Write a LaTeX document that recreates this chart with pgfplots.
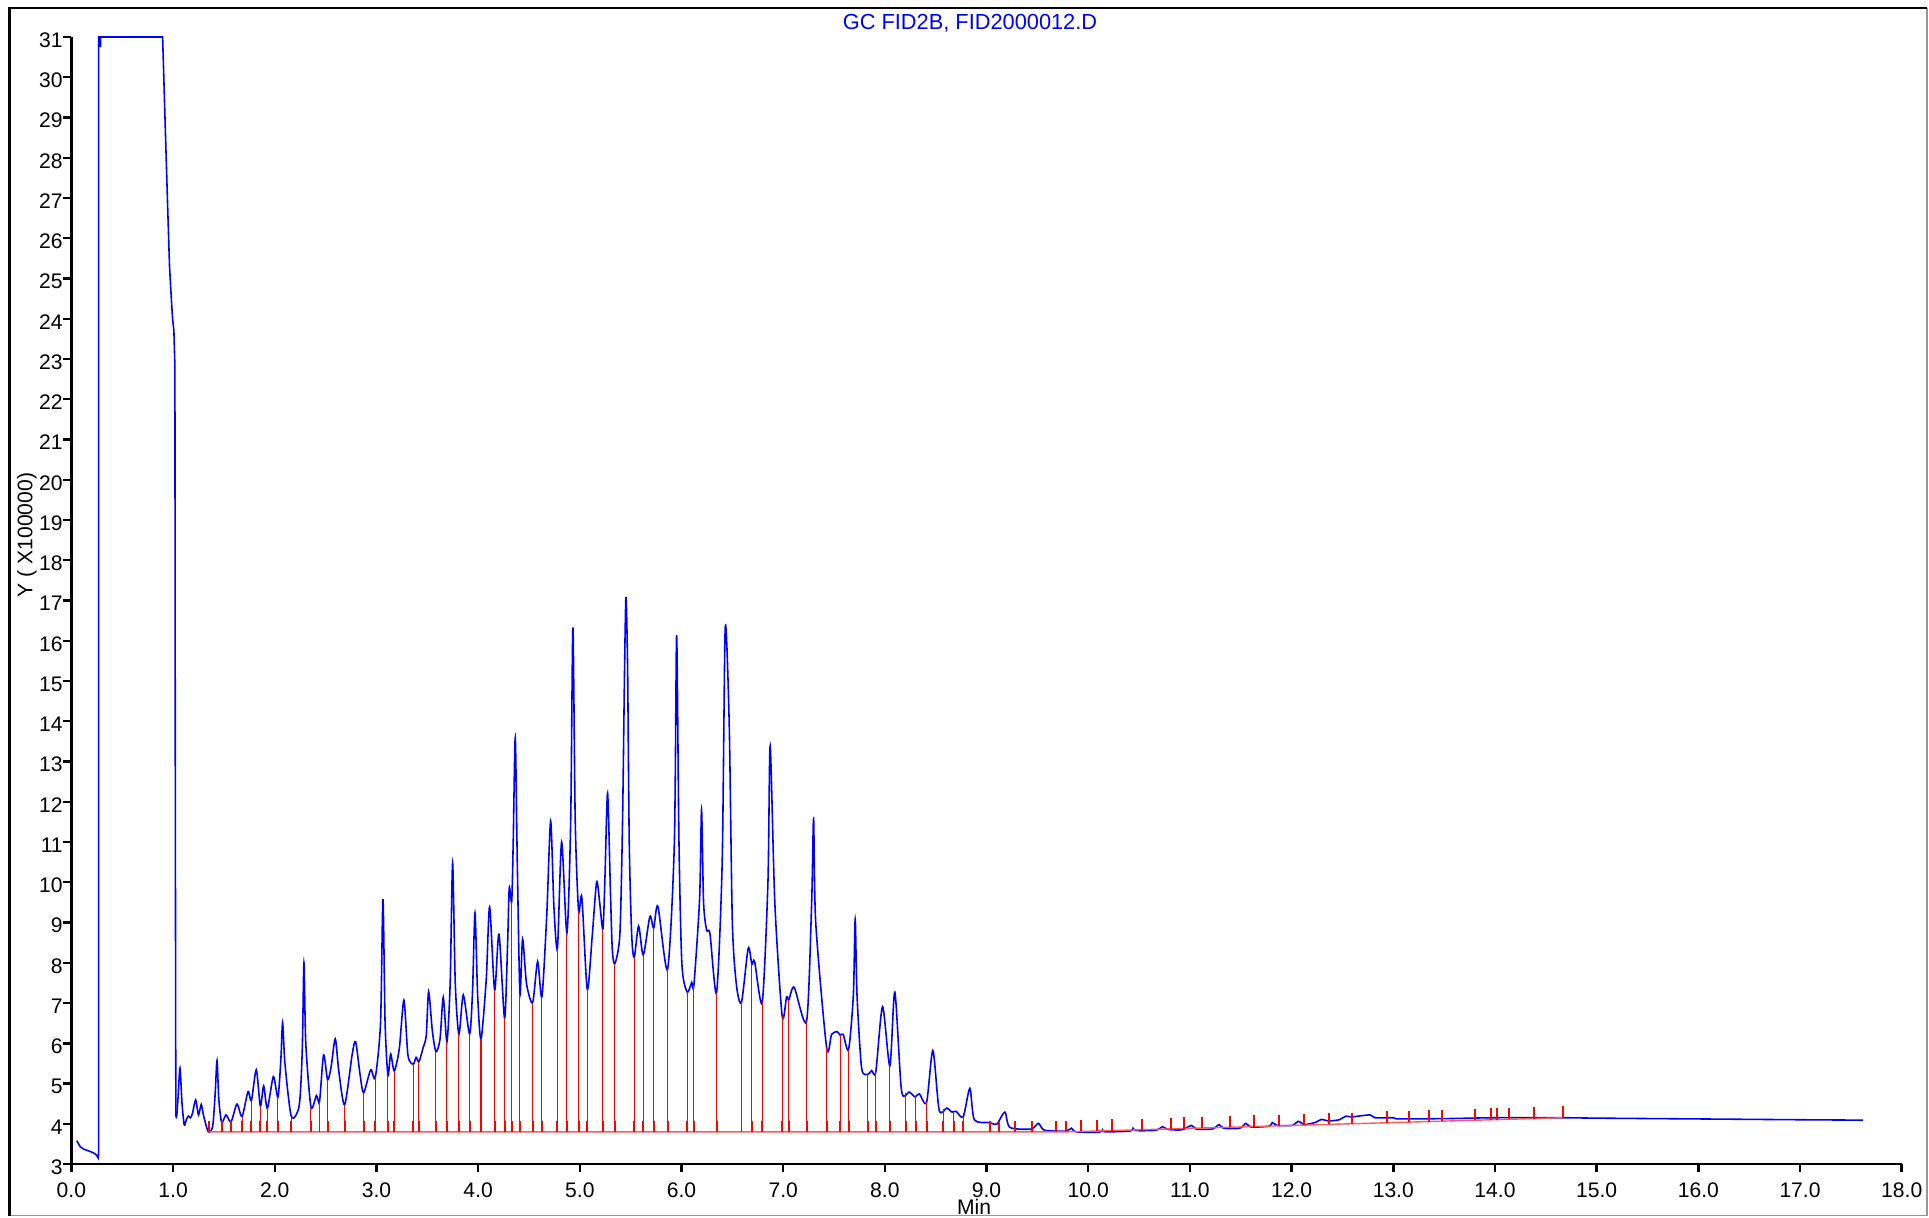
\documentclass[border=0pt]{standalone}
\usepackage{pgfplots}
\pgfplotsset{compat=1.18}
\usepackage{fontspec}
\setmainfont{Liberation Sans}
\definecolor{trace}{RGB}{0,0,255}
\definecolor{pkred}{RGB}{255,0,0}
\definecolor{basered}{RGB}{255,90,90}
\definecolor{framegray}{RGB}{150,150,150}
\begin{document}
\begin{tikzpicture}
\path[use as bounding box] (0,0) rectangle (19.29,12.17);
\begin{axis}[
  at={(0.714cm,0.53cm)}, anchor=south west,
  scale only axis, width=18.303cm, height=11.27cm,
  xmin=0, xmax=18, ymin=3, ymax=31,
  axis x line*=bottom, axis y line*=left,
  axis line style={black, line width=0.75pt},
  xtick={0,1,...,18}, ytick={3,4,...,31},
  minor tick num=0,
  tick align=outside,
  major tick length=0.08cm,
  tick style={black, line width=0.7pt},
  xticklabel={\pgfmathprintnumber[fixed,fixed zerofill,precision=1]{\tick}},
  /pgf/number format/assume math mode=true,
  ticklabel style={font=\fontsize{6}{7}\selectfont, inner sep=0pt},
  xticklabel style={anchor=north, yshift=-0.1cm},
  yticklabel style={anchor=east, yshift=-0.03cm},
  clip=false,
]
% solvent region
\addplot[trace, line width=0.45pt] coordinates {
(0.053,3.58) (0.07,3.50) (0.087,3.43) (0.12,3.37) (0.175,3.32) (0.215,3.28) (0.24,3.24) (0.255,3.19) (0.264,3.15)
(0.268,3.3) (0.268,31) (0.284,31) (0.286,30.75) (0.288,31) (0.897,31)
(0.925,28.6) (0.944,27.0) (0.965,25.3) (0.985,24.4) (0.995,24.0) (1.008,23.7) (1.018,22.8)
(1.022,12) (1.026,5.5) (1.028,4.18)
};
% chromatogram
\addplot[trace, line width=0.45pt, smooth, tension=0.45] coordinates {
(1.028,4.18) (1.036,4.2) (1.05,4.7) (1.068,5.38) (1.088,4.5) (1.11,3.97) (1.13,4.1) (1.15,4.19) (1.17,4.15)
(1.19,4.25) (1.222,4.59) (1.25,4.22) (1.277,4.48) (1.30,4.2) (1.347,3.80) (1.39,3.95) (1.415,4.8)
(1.432,5.57) (1.45,4.6) (1.478,4.03) (1.52,4.22) (1.57,4.05) (1.628,4.49) (1.678,4.18) (1.737,4.80)
(1.77,4.57) (1.818,5.34) (1.858,4.44) (1.891,4.94) (1.927,4.38) (1.986,5.17) (2.031,4.66) (2.06,5.6)
(2.077,6.51) (2.10,5.5) (2.163,4.18) (2.24,4.45) (2.27,5.8) (2.287,8.0) (2.305,6.0) (2.356,4.42)
(2.41,4.70) (2.44,4.55) (2.48,5.71) (2.52,5.09) (2.555,5.43) (2.595,6.11) (2.63,5.3) (2.687,4.47)
(2.76,5.7) (2.795,6.04) (2.84,5.2) (2.874,4.77) (2.943,5.34) (2.988,5.15) (3.04,6.5) (3.064,9.58)
(3.085,6.5) (3.113,5.21) (3.14,5.73) (3.175,5.31) (3.225,5.87) (3.27,7.07) (3.31,5.7) (3.362,5.48)
(3.39,5.65) (3.418,5.54) (3.46,5.9) (3.49,6.2) (3.513,7.28) (3.55,6.3) (3.585,5.79) (3.625,6.1)
(3.657,7.14) (3.693,6.04) (3.725,7.5) (3.749,10.47) (3.775,7.5) (3.811,6.22) (3.854,7.20) (3.916,6.23)
(3.945,7.3) (3.969,9.24) (3.995,7.2) (4.028,6.10) (4.08,7.6) (4.113,9.39) (4.162,7.32) (4.205,8.71)
(4.26,6.62) (4.29,8.5) (4.306,9.86) (4.33,9.52) (4.345,11.0) (4.365,13.59) (4.385,10.5) (4.411,7.22)
(4.437,8.59) (4.476,7.48) (4.536,7.01) (4.585,8.03) (4.627,7.15) (4.675,9.2) (4.713,11.52) (4.745,9.4)
(4.78,8.36) (4.821,11.0) (4.873,8.74) (4.91,11.5) (4.932,16.33) (4.955,11.5) (4.988,9.29) (5.02,9.62)
(5.073,7.34) (5.12,8.6) (5.165,10.0) (5.195,9.5) (5.227,8.84) (5.247,10.1) (5.273,12.22) (5.302,9.67)
(5.32,8.3) (5.345,7.98) (5.394,8.72) (5.42,11.5) (5.44,15.3) (5.454,17.09) (5.47,15.3) (5.486,11.0)
(5.51,8.7) (5.535,8.13) (5.578,8.91) (5.624,8.19) (5.689,9.15) (5.726,8.86) (5.768,9.40) (5.863,7.84)
(5.93,11) (5.952,16.14) (5.975,11) (6.004,7.96) (6.056,7.27) (6.10,7.51) (6.122,7.45) (6.178,9.6)
(6.197,11.80) (6.217,9.5) (6.247,8.81) (6.28,8.72) (6.345,7.26) (6.40,10.5) (6.43,16.33) (6.469,13.95)
(6.50,9) (6.541,7.43) (6.59,7.02) (6.656,8.36) (6.692,7.96) (6.719,8.03) (6.794,7.02) (6.85,10)
(6.872,13.38) (6.918,9.48) (6.99,6.67) (7.033,7.15) (7.056,7.08) (7.108,7.39) (7.23,6.55) (7.28,9.5)
(7.299,11.57) (7.32,9) (7.427,5.89) (7.476,6.22) (7.53,6.29) (7.56,6.20) (7.59,6.22) (7.643,5.84)
(7.69,7.2) (7.708,9.08) (7.726,7.2) (7.771,5.39) (7.83,5.23) (7.87,5.32) (7.911,5.29) (7.977,6.91)
(8.049,5.44) (8.098,7.27) (8.164,4.82) (8.24,4.79) (8.295,4.67) (8.34,4.74) (8.41,4.53) (8.472,5.82)
(8.534,4.34) (8.61,4.39) (8.66,4.29) (8.70,4.31) (8.77,4.17) (8.836,4.88) (8.88,4.10) (9.03,4.03)
(9.10,3.99) (9.18,4.29) (9.23,3.91) (9.44,3.87) (9.51,4.01) (9.57,3.84) (9.78,3.82) (9.836,3.89)
(9.88,3.80) (10.11,3.79) (10.14,3.85) (10.17,3.80) (10.41,3.82) (10.44,3.89) (10.47,3.83) (10.67,3.84)
(10.73,3.93) (10.78,3.86) (10.92,3.85) (11.016,3.96) (11.06,3.87) (11.22,3.87) (11.287,3.98) (11.33,3.89)
(11.49,3.89) (11.55,4.01) (11.60,3.92) (11.78,3.94) (11.81,4.03) (11.86,3.96) (12.01,3.96) (12.064,4.06)
(12.13,3.98) (12.24,4.04) (12.294,4.11) (12.36,4.07) (12.47,4.10) (12.533,4.19) (12.59,4.17) (12.77,4.22)
(12.82,4.15) (13.0,4.15) (13.06,4.12) (13.555,4.13) (14.0,4.15) (14.66,4.15) (15.0,4.14) (16.0,4.12)
(17.0,4.10) (17.62,4.09)
};
% integration baseline
\addplot[basered, line width=0.4pt] coordinates {(1.35,3.8) (9.8,3.8) (14.67,4.15)};
% drop lines
\addplot[pkred, line width=0.3pt, unbounded coords=jump] coordinates {
(1.478,3.8)(1.478,4.03)(1.478,nan) (1.57,3.8)(1.57,4.05)(1.57,nan) (1.678,3.8)(1.678,4.18)(1.678,nan)
(1.77,3.8)(1.77,4.57)(1.77,nan) (1.858,3.8)(1.858,4.44)(1.858,nan) (1.927,3.8)(1.927,4.38)(1.927,nan)
(2.031,3.8)(2.031,4.66)(2.031,nan) (2.163,3.8)(2.163,4.18)(2.163,nan) (2.356,3.8)(2.356,4.42)(2.356,nan)
(2.44,3.8)(2.44,4.55)(2.44,nan) (2.52,3.8)(2.52,5.09)(2.52,nan) (2.687,3.8)(2.687,4.47)(2.687,nan)
(2.874,3.8)(2.874,4.77)(2.874,nan) (2.988,3.8)(2.988,5.15)(2.988,nan) (3.113,3.8)(3.113,5.21)(3.113,nan)
(3.175,3.8)(3.175,5.31)(3.175,nan) (3.362,3.8)(3.362,5.48)(3.362,nan) (3.418,3.8)(3.418,5.54)(3.418,nan)
(3.585,3.8)(3.585,5.79)(3.585,nan) (3.693,3.8)(3.693,6.04)(3.693,nan) (3.811,3.8)(3.811,6.22)(3.811,nan)
(3.916,3.8)(3.916,6.23)(3.916,nan) (4.028,3.8)(4.028,6.10)(4.028,nan) (4.162,3.8)(4.162,7.32)(4.162,nan)
(4.26,3.8)(4.26,6.62)(4.26,nan) (4.33,3.8)(4.33,9.52)(4.33,nan) (4.411,3.8)(4.411,7.22)(4.411,nan)
(4.536,3.8)(4.536,7.01)(4.536,nan) (4.627,3.8)(4.627,7.15)(4.627,nan) (4.78,3.8)(4.78,8.36)(4.78,nan)
(4.873,3.8)(4.873,8.74)(4.873,nan) (4.988,3.8)(4.988,9.29)(4.988,nan) (5.073,3.8)(5.073,7.34)(5.073,nan)
(5.227,3.8)(5.227,8.84)(5.227,nan) (5.345,3.8)(5.345,7.98)(5.345,nan) (5.535,3.8)(5.535,8.13)(5.535,nan)
(5.624,3.8)(5.624,8.19)(5.624,nan) (5.726,3.8)(5.726,8.86)(5.726,nan) (5.863,3.8)(5.863,7.84)(5.863,nan)
(6.056,3.8)(6.056,7.27)(6.056,nan) (6.122,3.8)(6.122,7.45)(6.122,nan) (6.345,3.8)(6.345,7.26)(6.345,nan)
(6.59,3.8)(6.59,7.02)(6.59,nan) (6.692,3.8)(6.692,7.96)(6.692,nan) (6.794,3.8)(6.794,7.02)(6.794,nan)
(6.99,3.8)(6.99,6.67)(6.99,nan) (7.056,3.8)(7.056,7.08)(7.056,nan) (7.23,3.8)(7.23,6.55)(7.23,nan)
(7.427,3.8)(7.427,5.89)(7.427,nan) (7.56,3.8)(7.56,6.20)(7.56,nan) (7.643,3.8)(7.643,5.84)(7.643,nan)
(7.83,3.8)(7.83,5.23)(7.83,nan) (7.911,3.8)(7.911,5.29)(7.911,nan) (8.049,3.8)(8.049,5.44)(8.049,nan)
(8.206,3.8)(8.206,4.77)(8.206,nan) (8.305,3.8)(8.305,4.68)(8.305,nan) (8.413,3.8)(8.413,4.53)(8.413,nan)
(8.573,3.8)(8.573,4.36)(8.573,nan) (8.678,3.8)(8.678,4.29)(8.678,nan) (8.77,3.8)(8.77,4.17)(8.77,nan)
};
% peak start/end ticks
\addplot[pkred, line width=0.55pt, unbounded coords=jump] coordinates {
(1.356,3.8)(1.356,4.08)(1.356,nan)
(1.478,3.8)(1.478,4.08)(1.478,nan) (1.57,3.8)(1.57,4.08)(1.57,nan) (1.678,3.8)(1.678,4.08)(1.678,nan)
(1.77,3.8)(1.77,4.08)(1.77,nan) (1.858,3.8)(1.858,4.08)(1.858,nan) (1.927,3.8)(1.927,4.08)(1.927,nan)
(2.031,3.8)(2.031,4.08)(2.031,nan) (2.163,3.8)(2.163,4.08)(2.163,nan) (2.356,3.8)(2.356,4.08)(2.356,nan)
(2.44,3.8)(2.44,4.08)(2.44,nan) (2.52,3.8)(2.52,4.08)(2.52,nan) (2.687,3.8)(2.687,4.08)(2.687,nan)
(2.874,3.8)(2.874,4.08)(2.874,nan) (2.988,3.8)(2.988,4.08)(2.988,nan) (3.113,3.8)(3.113,4.08)(3.113,nan)
(3.175,3.8)(3.175,4.08)(3.175,nan) (3.362,3.8)(3.362,4.08)(3.362,nan) (3.418,3.8)(3.418,4.08)(3.418,nan)
(3.585,3.8)(3.585,4.08)(3.585,nan) (3.693,3.8)(3.693,4.08)(3.693,nan) (3.811,3.8)(3.811,4.08)(3.811,nan)
(3.916,3.8)(3.916,4.08)(3.916,nan) (4.028,3.8)(4.028,4.08)(4.028,nan) (4.162,3.8)(4.162,4.08)(4.162,nan)
(4.26,3.8)(4.26,4.08)(4.26,nan) (4.33,3.8)(4.33,4.08)(4.33,nan) (4.411,3.8)(4.411,4.08)(4.411,nan)
(4.536,3.8)(4.536,4.08)(4.536,nan) (4.627,3.8)(4.627,4.08)(4.627,nan) (4.78,3.8)(4.78,4.08)(4.78,nan)
(4.873,3.8)(4.873,4.08)(4.873,nan) (4.988,3.8)(4.988,4.08)(4.988,nan) (5.073,3.8)(5.073,4.08)(5.073,nan)
(5.227,3.8)(5.227,4.08)(5.227,nan) (5.345,3.8)(5.345,4.08)(5.345,nan) (5.535,3.8)(5.535,4.08)(5.535,nan)
(5.624,3.8)(5.624,4.08)(5.624,nan) (5.726,3.8)(5.726,4.08)(5.726,nan) (5.863,3.8)(5.863,4.08)(5.863,nan)
(6.056,3.8)(6.056,4.08)(6.056,nan) (6.122,3.8)(6.122,4.08)(6.122,nan) (6.345,3.8)(6.345,4.08)(6.345,nan)
(6.59,3.8)(6.59,4.08)(6.59,nan) (6.692,3.8)(6.692,4.08)(6.692,nan) (6.794,3.8)(6.794,4.08)(6.794,nan)
(6.99,3.8)(6.99,4.08)(6.99,nan) (7.056,3.8)(7.056,4.08)(7.056,nan) (7.23,3.8)(7.23,4.08)(7.23,nan)
(7.427,3.8)(7.427,4.08)(7.427,nan) (7.56,3.8)(7.56,4.08)(7.56,nan) (7.643,3.8)(7.643,4.08)(7.643,nan)
(7.83,3.8)(7.83,4.08)(7.83,nan) (7.911,3.8)(7.911,4.08)(7.911,nan) (8.049,3.8)(8.049,4.08)(8.049,nan)
(8.206,3.8)(8.206,4.08)(8.206,nan) (8.305,3.8)(8.305,4.08)(8.305,nan) (8.413,3.8)(8.413,4.08)(8.413,nan)
(8.573,3.8)(8.573,4.08)(8.573,nan) (8.678,3.8)(8.678,4.08)(8.678,nan) (8.77,3.8)(8.77,4.08)(8.77,nan)
(9.032,3.8)(9.032,4.08)(9.032,nan) (9.12,3.8)(9.12,4.08)(9.12,nan) (9.28,3.8)(9.28,4.08)(9.28,nan)
(9.45,3.8)(9.45,4.08)(9.45,nan) (9.68,3.8)(9.68,4.08)(9.68,nan) (9.78,3.8)(9.78,4.08)(9.78,nan)
(9.93,3.809)(9.93,4.09)(9.93,nan) (10.09,3.821)(10.09,4.10)(10.09,nan) (10.23,3.831)(10.23,4.11)(10.23,nan)
(10.53,3.852)(10.53,4.13)(10.53,nan) (10.81,3.873)(10.81,4.15)(10.81,nan) (10.94,3.882)(10.94,4.16)(10.94,nan)
(11.12,3.895)(11.12,4.18)(11.12,nan) (11.39,3.914)(11.39,4.19)(11.39,nan) (11.63,3.932)(11.63,4.21)(11.63,nan)
(11.88,3.950)(11.88,4.23)(11.88,nan) (12.12,3.967)(12.12,4.25)(12.12,nan) (12.37,3.985)(12.37,4.27)(12.37,nan)
(12.59,4.001)(12.59,4.28)(12.59,nan) (12.94,4.026)(12.94,4.31)(12.94,nan) (13.15,4.041)(13.15,4.32)(13.15,nan)
(13.35,4.055)(13.35,4.34)(13.35,nan) (13.48,4.065)(13.48,4.35)(13.48,nan) (13.80,4.088)(13.80,4.37)(13.80,nan)
(13.96,4.099)(13.96,4.38)(13.96,nan) (14.02,4.103)(14.02,4.38)(14.02,nan) (14.14,4.112)(14.14,4.39)(14.14,nan)
(14.38,4.129)(14.38,4.41)(14.38,nan) (14.67,4.15)(14.67,4.43)(14.67,nan)
};
\end{axis}
% title and axis labels
\node[text=trace, font=\fontsize{6.2}{7}\selectfont, inner sep=0pt] at (9.70,11.94) {GC FID2B, FID2000012.D};
\node[rotate=90, font=\fontsize{6}{7}\selectfont, inner sep=0pt] at (0.27,6.82) {Y ( X100000)};
\node[anchor=base, font=\fontsize{6}{7}\selectfont, inner sep=0pt] at (9.74,0.022) {Min};
% frame
\draw[framegray, line width=0.35pt] (19.27,12.09) -- (19.27,0.015) -- (0.095,0.015);
\draw[black, line width=0.7pt] (0.095,0.015) -- (0.095,12.09) -- (19.27,12.09);
\end{tikzpicture}
\end{document}
